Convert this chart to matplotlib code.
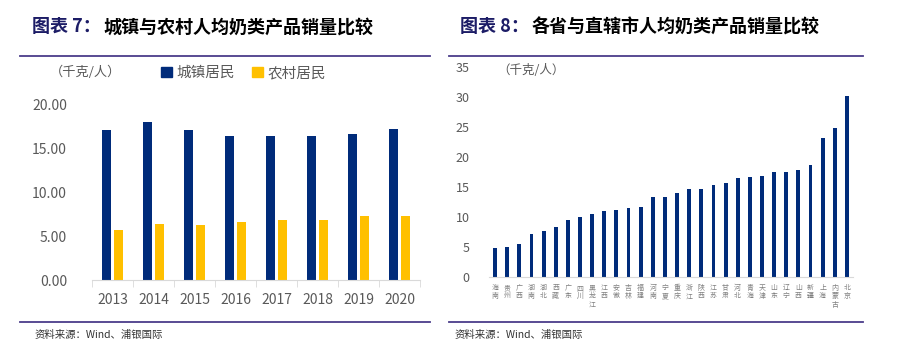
import matplotlib
matplotlib.use('Agg')
import matplotlib.pyplot as plt
from matplotlib.lines import Line2D
from matplotlib.patches import Patch
import numpy as np

plt.rcParams['font.family'] = ['Noto Sans CJK SC', 'DejaVu Sans']

years = ['2013', '2014', '2015', '2016', '2017', '2018', '2019', '2020']
urban = [17.1, 18.1, 17.1, 16.5, 16.5, 16.5, 16.7, 17.3]
rural = [5.7, 6.4, 6.3, 6.6, 6.9, 6.9, 7.3, 7.35]

provinces = ['海南', '贵州', '广西', '湖南', '湖北', '西藏', '广东', '四川', '黑龙江', '江西',
             '安徽', '吉林', '福建', '河南', '宁夏', '重庆', '浙江', '陕西', '江苏', '甘肃',
             '河北', '青海', '天津', '山东', '辽宁', '山西', '新疆', '上海', '内蒙古', '北京']
prov_vals = [4.8, 5.0, 5.5, 7.25, 7.6, 8.4, 9.5, 10.0, 10.55, 11.1,
             11.2, 11.5, 11.7, 13.4, 13.4, 13.95, 14.7, 14.7, 15.35, 15.65,
             16.45, 16.7, 16.8, 17.5, 17.6, 17.85, 18.7, 23.15, 24.8, 30.15]

NAVY = '#002b7a'
YELLOW = '#ffc000'
GRAY = '#595959'
RULE = '#4b3d8a'
W, H = 897, 361

fig = plt.figure(figsize=(W / 100, H / 100), dpi=100)


def px(x, y):
    return x / W, 1 - y / H


def hline(x0, x1, y):
    fig.add_artist(Line2D([x0 / W, x1 / W], [1 - y / H, 1 - y / H], color=RULE, lw=1.3))


# titles and rules
fig.text(*px(32, 27), '图表 7：', color='#1c1c66', fontsize=13, weight='bold', va='center')
fig.text(*px(103, 27), '城镇与农村人均奶类产品销量比较', color='black', fontsize=13, weight='bold', va='center')
fig.text(*px(460, 27), '图表 8：', color='#1c1c66', fontsize=13, weight='bold', va='center')
fig.text(*px(532, 27), '各省与直辖市人均奶类产品销量比较', color='black', fontsize=13, weight='bold', va='center')
hline(20, 430, 56)
hline(449, 863, 56)
hline(20, 430, 322)
hline(449, 863, 322)
fig.text(*px(35, 335), '资料来源：Wind、浦银国际', color='#333333', fontsize=7.5, va='center')
fig.text(*px(455, 335), '资料来源：Wind、浦银国际', color='#333333', fontsize=7.5, va='center')

# left chart
ax1 = fig.add_axes([92 / W, 81 / H, 328 / W, 175 / H])
x = np.arange(len(years))
ax1.bar(x - 0.135, urban, width=0.22, color=NAVY)
ax1.bar(x + 0.135, rural, width=0.22, color=YELLOW)
ax1.set_xlim(-0.5, len(years) - 0.5)
ax1.set_ylim(0, 20)
ax1.set_yticks([0, 5, 10, 15, 20])
ax1.set_yticklabels(['%.2f' % v for v in [0, 5, 10, 15, 20]])
ax1.set_xticks(x)
ax1.set_xticklabels(years)
ax1.set_xticks(np.arange(-0.5, len(years)), minor=True)
ax1.tick_params(axis='x', which='major', length=0, pad=9, labelsize=10, labelcolor=GRAY)
ax1.tick_params(axis='x', which='minor', length=5, color='#d9d9d9', direction='out')
ax1.tick_params(axis='y', length=0, pad=18, labelsize=10, labelcolor=GRAY)
for s in ['top', 'right', 'left']:
    ax1.spines[s].set_visible(False)
ax1.spines['bottom'].set_color('#d9d9d9')

fig.text(*px(50, 72), '（千克/人）', color=GRAY, fontsize=9.5, va='center')
handles = [Patch(color=NAVY, label='城镇居民'), Patch(color=YELLOW, label='农村居民')]
fig.legend(handles=handles, loc='center left', bbox_to_anchor=px(148, 73), ncol=2,
           frameon=False, fontsize=10.5, handlelength=0.75, handleheight=0.75,
           handletextpad=0.3, columnspacing=1.2, labelcolor=GRAY)

# right chart
ax2 = fig.add_axes([489 / W, 84 / H, 364 / W, 209.6 / H])
xp = np.arange(len(provinces))
ax2.bar(xp, prov_vals, width=0.32, color=NAVY)
ax2.set_xlim(-0.5, len(provinces) - 0.5)
ax2.set_ylim(0, 35)
ax2.set_yticks(range(0, 36, 5))
ax2.set_xticks(xp)
ax2.set_xticklabels(['\n'.join(p) for p in provinces], fontsize=5, color='#808080',
                    linespacing=1.05, va='top')
ax2.tick_params(axis='x', length=0, pad=5)
ax2.tick_params(axis='y', length=0, pad=14, labelsize=9, labelcolor=GRAY)
for s in ['top', 'right', 'left']:
    ax2.spines[s].set_visible(False)
ax2.spines['bottom'].set_color('#d9d9d9')
fig.text(*px(497, 70), '（千克/人）', color=GRAY, fontsize=9, va='center')

fig.savefig('out.png', dpi=100)
